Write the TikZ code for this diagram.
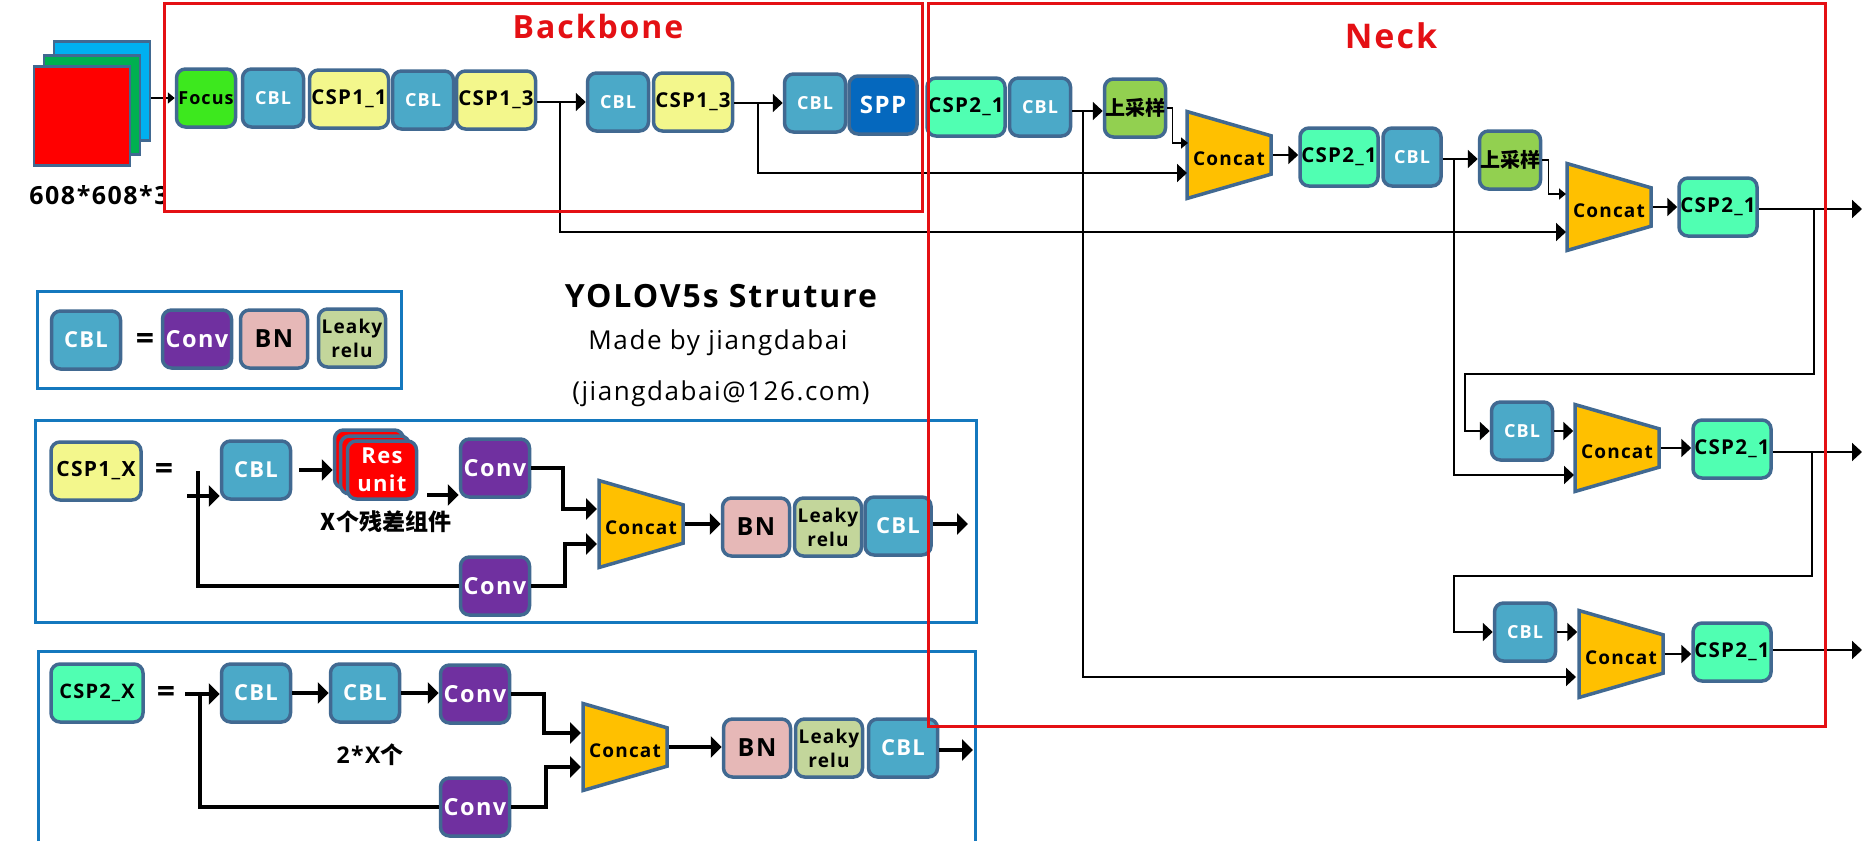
\documentclass[tikz,border=0pt]{standalone}
\usepackage{xcolor}
\usepackage{fontspec}
\usepackage{tikz}
\usetikzlibrary{arrows.meta,shapes.geometric}
\setmainfont[LetterSpace=6]{Open Sans}
\newfontfamily\cjk{Noto Sans CJK SC}
\definecolor{edge}{RGB}{65,105,145}
\definecolor{cblfill}{RGB}{75,169,200}
\definecolor{cspone}{RGB}{243,247,140}
\definecolor{csptwo}{RGB}{80,255,178}
\definecolor{focusfill}{RGB}{61,232,30}
\definecolor{sppfill}{RGB}{5,104,190}
\definecolor{upfill}{RGB}{146,208,80}
\definecolor{concatfill}{RGB}{255,192,0}
\definecolor{convfill}{RGB}{112,48,160}
\definecolor{bnfill}{RGB}{230,184,183}
\definecolor{leakyfill}{RGB}{195,214,155}
\definecolor{frameblue}{RGB}{20,120,190}
\definecolor{framered}{RGB}{228,16,20}
\definecolor{imgblue}{RGB}{0,176,240}
\definecolor{imggreen}{RGB}{0,176,80}

\begin{document}
\begin{tikzpicture}[
  x=1pt, y=-1pt,
  block/.style={rectangle, draw=edge, line width=3.5pt, rounded corners=9pt, minimum width=61pt, minimum height=58pt, inner sep=0pt, align=center, font=\fontsize{18}{22}\selectfont\bfseries},
  cbl/.style={block, fill=cblfill, text=white},
  cspa/.style={block, fill=cspone, minimum width=79pt, font=\fontsize{20.5}{24}\selectfont\bfseries},
  cspb/.style={block, fill=csptwo, minimum width=78pt, font=\fontsize{20.5}{24}\selectfont\bfseries},
  upbox/.style={block, fill=upfill, font=\fontsize{20}{24}\selectfont\bfseries\cjk},
  convbox/.style={block, fill=convfill, text=white, minimum width=69pt, font=\fontsize{23.5}{28}\selectfont\bfseries},
  bnbox/.style={block, fill=bnfill, minimum width=67pt, font=\fontsize{25}{30}\selectfont\bfseries},
  leakybox/.style={block, fill=leakyfill, minimum width=67pt, font=\fontsize{19}{24}\selectfont\bfseries},
  bigcbl/.style={cbl, minimum width=69pt, font=\fontsize{22}{26}\selectfont\bfseries},
  resbox/.style={block, draw=edge, fill=red, text=white, minimum width=69pt, font=\fontsize{22}{28}\selectfont\bfseries},
  concat/.style={trapezium, trapezium left angle=80, trapezium right angle=80, trapezium stretches=true, shape border rotate=270, draw=edge, fill=concatfill, line width=3.5pt, minimum width=87pt, minimum height=84pt, inner sep=0pt, text height=20pt, text depth=0pt, font=\fontsize{19}{22}\selectfont\bfseries},
  img/.style={rectangle, draw=edge, line width=2.5pt, minimum width=96pt, minimum height=99pt},
  redframe/.style={draw=framered, line width=3pt},
  blueframe/.style={draw=frameblue, line width=3pt},
  heading/.style={font=\fontsize{32}{36}\selectfont\bfseries, text=framered},
  eqsign/.style={font=\fontsize{32}{36}\selectfont\bfseries},
  arrow/.style={->, line width=2pt, >={Triangle[length=10pt,width=18pt]}},
  smallarrow/.style={->, line width=1.5pt, >={Triangle[length=7pt,width=11pt]}},
  bigarrow/.style={->, line width=4pt, >={Triangle[length=11pt,width=21pt]}},
  wire/.style={line width=4pt}
]
\useasboundingbox (0,0) rectangle (1862,841);

% Input images
\node[img, fill=imgblue] (imgblue) at (102,91) {};
\node[img, fill=imggreen] (imggreen) at (92,105) {};
\node[img, fill=red] (imgred) at (82,116) {};
\begin{scope}
\clip (0,175) rectangle (163,215);
\node[font=\fontsize{25}{30}\selectfont\bfseries] (imgsize) at (99,195) {608*608*3};
\end{scope}

% Backbone
\node[block, fill=focusfill, minimum width=59pt, font=\fontsize{18}{22}\selectfont\bfseries] (focus) at (206,98) {Focus};
\node[cbl] (cblA) at (273,98) {CBL};
\node[cspa] (cspA) at (349,99) {CSP1\_1};
\node[cbl] (cblB) at (423,100) {CBL};
\node[cspa] (cspB) at (496,100) {CSP1\_3};
\node[cbl] (cblC) at (618,102) {CBL};
\node[cspa] (cspC) at (693,102) {CSP1\_3};
\node[cbl] (cblD) at (815,103) {CBL};
\node[block, fill=sppfill, text=white, minimum width=68pt, font=\fontsize{24}{28}\selectfont\bfseries] (spp) at (883,105) {SPP};

% Neck
\node[cspb] (cspD) at (966,107) {CSP2\_1};
\node[cbl] (cblE) at (1040,107) {CBL};
\node[upbox] (upA) at (1135,108) {上采样};
\node[concat] (concatA) at (1229,155) {Concat};
\node[cspb] (cspE) at (1339,157) {CSP2\_1};
\node[cbl, minimum width=58pt] (cblF) at (1412,157) {CBL};
\node[upbox] (upB) at (1510,160) {上采样};
\node[concat] (concatB) at (1609,207) {Concat};
\node[cspb] (cspF) at (1718,207) {CSP2\_1};
\node[cbl] (cblG) at (1522,431) {CBL};
\node[concat] (concatC) at (1617,448) {Concat};
\node[cspb] (cspG) at (1732,449) {CSP2\_1};
\node[cbl] (cblH) at (1525,632) {CBL};
\node[concat] (concatD) at (1621,654) {Concat};
\node[cspb] (cspH) at (1732,652) {CSP2\_1};

% Title
\node[font=\fontsize{32}{36}\selectfont\bfseries] (title) at (721,296) {YOLOV5s Struture};
\node[font=\fontsize{26}{30}\selectfont] (madeby) at (718,343) {Made by jiangdabai};
\node[font=\fontsize{26}{30}\selectfont] (mail) at (721,394) {(jiangdabai@126.com)};

% CBL legend
\node[bigcbl] (cblL) at (86,340) {CBL};
\node[eqsign] (eqL) at (145,341) {=};
\node[convbox] (convL) at (197,339) {Conv};
\node[bnbox] (bnL) at (274,339) {BN};
\node[leakybox] (leakyL) at (352,338) {Leaky\\relu};

% CSP1_X legend
\node[cspa, minimum width=90pt, font=\fontsize{21}{25}\selectfont\bfseries] (cspP) at (96,471) {CSP1\_X};
\node[eqsign] (eqP) at (164,471) {=};
\node[bigcbl] (cblP) at (256,470) {CBL};
\node[resbox] (resA) at (369,459) {};
\node[resbox] (resB) at (375,465) {};
\node[resbox] (resC) at (382,470) {Res\\unit};
\node[font=\fontsize{23}{27}\selectfont\bfseries\cjk] (resnote) at (386,522) {X个残差组件};
\node[convbox] (convP) at (495,468) {Conv};
\node[convbox] (convQ) at (495,586) {Conv};
\node[concat] (concatP) at (641,524) {Concat};
\node[bnbox] (bnP) at (756,527) {BN};
\node[leakybox] (leakyP) at (828,527) {Leaky\\relu};
\node[bigcbl, minimum width=66pt] (cblQ) at (898,526) {CBL};

% CSP2_X legend
\node[cspb, minimum width=92pt, font=\fontsize{20}{24}\selectfont\bfseries] (cspR) at (97,693) {CSP2\_X};
\node[eqsign] (eqR) at (166,694) {=};
\node[bigcbl] (cblR) at (256,693) {CBL};
\node[bigcbl] (cblS) at (365,693) {CBL};
\node[convbox] (convR) at (475,694) {Conv};
\node[convbox] (convS) at (475,807) {Conv};
\node[font=\fontsize{23}{27}\selectfont\bfseries] (twox) at (370,755) {2*X{\cjk 个}};
\node[concat] (concatR) at (625,747) {Concat};
\node[bnbox] (bnR) at (757,748) {BN};
\node[leakybox] (leakyR) at (829,748) {Leaky\\relu};
\node[bigcbl] (cblT) at (903,748) {CBL};

% Free ends
\coordinate (tapA) at (560,102);
\coordinate (tapB) at (758,103);
\coordinate (tapC) at (1083,111);
\coordinate (tapD) at (1454,159);
\coordinate (tapE) at (1814,209);
\coordinate (tapF) at (1812,452);
\coordinate (turnE) at (1465,374);
\coordinate (turnF) at (1454,576);
\coordinate (inAa) at (1188,143);
\coordinate (inAb) at (1187,173);
\coordinate (inBa) at (1566,194);
\coordinate (inBb) at (1566,232);
\coordinate (inCb) at (1574,475);
\coordinate (inDb) at (1576,677);
\coordinate (outF) at (1862,209);
\coordinate (outG) at (1862,452);
\coordinate (outH) at (1862,650);
\coordinate (tapP) at (198,471);
\coordinate (startP) at (187,496);
\coordinate (resout) at (427,495);
\coordinate (inPa) at (597,509);
\coordinate (inPb) at (597,544);
\coordinate (outP) at (968,524);
\coordinate (startR) at (185,694);
\coordinate (tapR) at (200,694);
\coordinate (inRa) at (581,733);
\coordinate (inRb) at (581,767);
\coordinate (outR) at (973,750);

% Arrows
\draw[smallarrow, line width=2pt] (imgblue.east |- focus.west) -- (focus.west);
\draw[arrow] (tapA -| cspB.east) -- (tapA -| cblC.west);
\draw[arrow] (tapB -| cspC.east) -- (tapB -| cblD.west);
\draw[arrow] (tapA) |- (inBb);
\draw[arrow] (tapB) |- (inAb);
\draw[arrow] (tapC -| cblE.east) -- (tapC -| upA.west);
\draw[smallarrow] (upA.east) -- ++(5,0) |- (inAa);
\draw[arrow] (concatA.east) -- (concatA.east -| cspE.west);
\draw[arrow] (tapD -| cblF.east) -- (tapD -| upB.west);
\draw[smallarrow] (upB.east) -- ++(6,0) |- (inBa);
\draw[arrow] (concatB.east) -- (concatB.east -| cspF.west);
\draw[arrow] (outF -| cspF.east) -- (outF);
\draw[arrow] (tapC) |- (inDb);
\draw[arrow] (tapD) |- (inCb);
\draw[arrow] (tapE) |- (turnE) |- (cblG.west);
\draw[arrow] (cblG.east) -- (cblG.east -| concatC.west);
\draw[arrow] (concatC.east) -- (concatC.east -| cspG.west);
\draw[arrow] (outG -| cspG.east) -- (outG);
\draw[arrow] (tapF) |- (turnF) |- (cblH.west);
\draw[arrow] (cblH.east) -- (cblH.east -| concatD.west);
\draw[arrow] (concatD.east) -- (concatD.east -| cspH.west);
\draw[arrow] (outH -| cspH.east) -- (outH);

\draw[wire] (tapP) |- (convQ.west);
\draw[bigarrow] (startP) -- (startP -| cblP.west);
\draw[bigarrow, shorten <=7pt] (cblP.east) -- (cblP.east -| resA.west);
\draw[bigarrow] (resout) -- (resout -| convP.west);
\draw[bigarrow] (convP.east) -- ++(32,0) |- (inPa);
\draw[bigarrow] (convQ.east) -- ++(34,0) |- (inPb);
\draw[bigarrow] (concatP.east) -- (concatP.east -| bnP.west);
\draw[bigarrow] (outP -| cblQ.east) -- (outP);

\draw[wire] (tapR) |- (convS.west);
\draw[bigarrow] (startR) -- (startR -| cblR.west);
\draw[bigarrow] (cblR.east) -- (cblS.west);
\draw[bigarrow] (cblS.east) -- (cblS.east -| convR.west);
\draw[bigarrow] (convR.east) -- ++(33,0) |- (inRa);
\draw[bigarrow] (convS.east) -- ++(35,0) |- (inRb);
\draw[bigarrow] (concatR.east) -- (concatR.east -| bnR.west);
\draw[bigarrow] (outR -| cblT.east) -- (outR);

% Frames
\node[blueframe, minimum width=364pt, minimum height=97pt, inner sep=0pt] (frameL) at (219.5,340) {};
\node[blueframe, minimum width=941pt, minimum height=202pt, inner sep=0pt] (frameP) at (506,521.5) {};
\draw[blueframe] (38,841) -- (38,651) -- (975,651) -- (975,841);
\node[redframe, minimum width=758pt, minimum height=208pt, inner sep=0pt] (backbone) at (543,107) {};
\node[redframe, minimum width=897pt, minimum height=723pt, inner sep=0pt] (neck) at (1376.5,364.5) {};
\node[heading] (backbonetitle) at (598,26) {Backbone};
\node[heading, font=\fontsize{34}{38}\selectfont\bfseries] (necktitle) at (1391,36) {Neck};
\end{tikzpicture}
\end{document}
